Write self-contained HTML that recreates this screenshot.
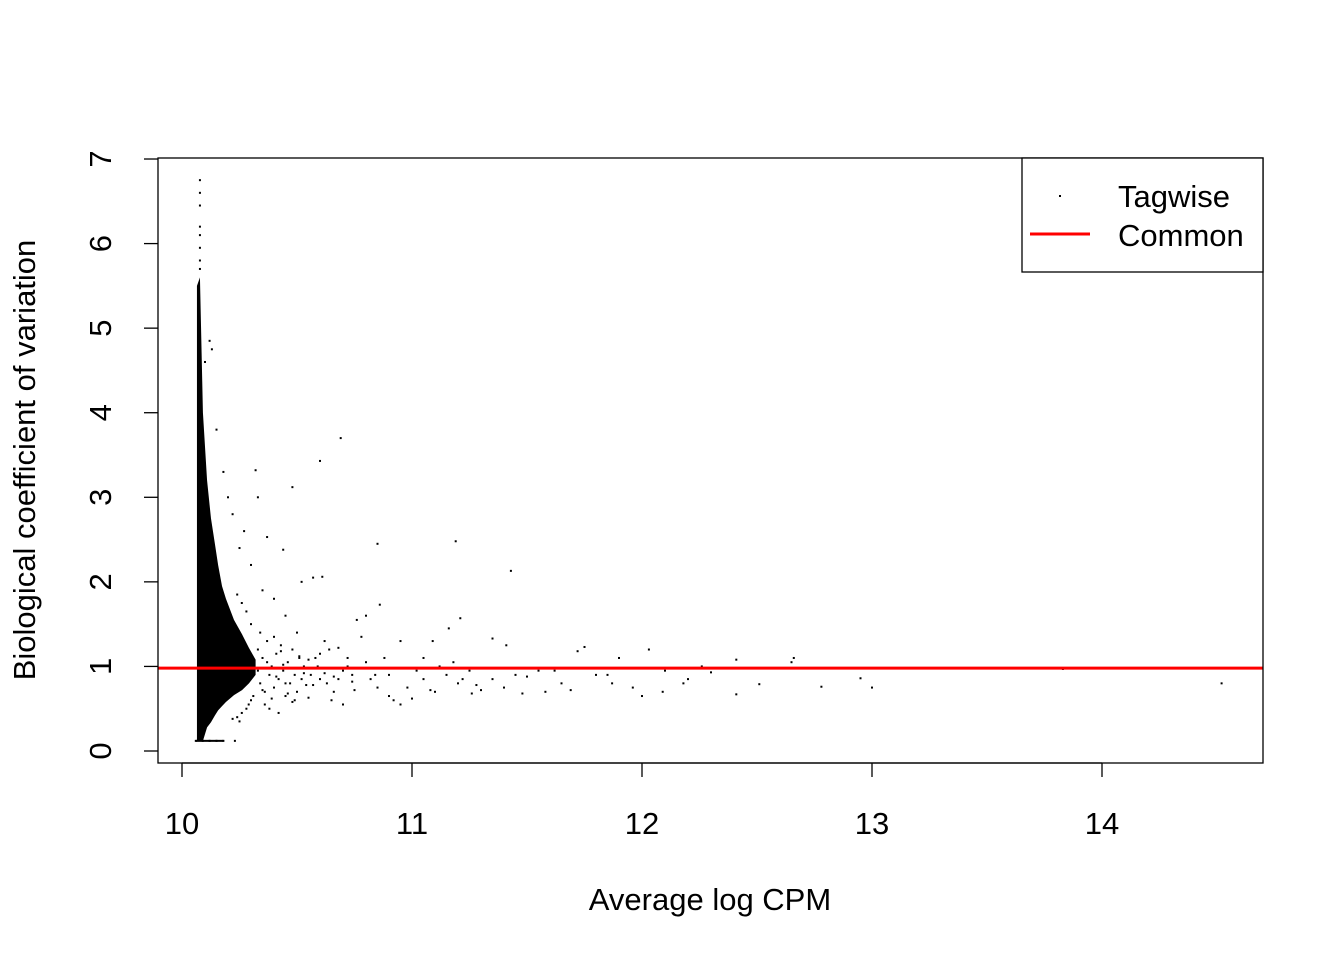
<!DOCTYPE html>
<html><head><meta charset="utf-8"><style>
html,body{margin:0;padding:0;background:#fff}
svg text{font-family:"Liberation Sans",Arial,sans-serif;fill:#000}
</style></head><body>
<svg id="c" width="1344" height="960" xmlns="http://www.w3.org/2000/svg"></svg>
<script>
const xTicks=[10,11,12,13,14];
const yTicks=[0,1,2,3,4,5,6,7];
const commonBCV=0.98;
// dense cloud envelope: logCPM, lower BCV, upper BCV
const bandX=[10.065,10.078,10.091,10.109,10.126,10.143,10.157,10.174,10.191,10.226,10.261,10.291,10.32];
const bandLo=[0.12,0.12,0.12,0.28,0.34,0.42,0.48,0.53,0.58,0.66,0.72,0.8,0.9];
const bandHi=[5.5,5.6,4.0,3.2,2.75,2.45,2.2,1.95,1.8,1.55,1.38,1.22,1.08];
// sparse tagwise points
const ptX=[10.078,10.078,10.078,10.078,10.078,10.078,10.078,10.078,10.69,10.60,10.32,10.48,10.33,10.85,11.19,11.43,10.37,10.44,10.57,10.61,10.52,10.86,11.21,10.76,10.8,11.16,11.09,11.35,11.41,11.75,11.72,12.03,11.9,12.26,12.41,12.66,12.65,12.51,12.41,12.78,12.95,13.0,13.83,14.52,12.2,12.18,12.09,12.0,11.96,11.87,11.85,11.69,11.58,11.48,11.4,11.3,11.2,11.1,11.0,10.95,10.9,10.85,10.75,10.7,10.65,10.55,10.6,10.7,10.8,10.9,11.05,11.15,11.25,11.35,11.5,11.55,11.65,11.8,12.1,12.3,10.62,10.68,10.78,10.95,11.05,11.18,10.5,10.45,10.4,10.35,10.3,10.25,10.27,10.22,10.2,10.18,10.15,10.13,10.12,10.1,10.56,10.63,10.72,10.82,10.88,10.98,11.02,11.12,11.22,11.28,10.58,10.66,10.74,10.84,10.92,11.08,11.26,11.45,11.62,10.06,10.09,10.12,10.15,10.18,10.23,
10.33,10.34,10.35,10.36,10.37,10.38,10.39,10.4,10.41,10.42,10.43,10.44,10.45,10.46,10.47,10.48,10.49,10.5,10.51,10.52,10.53,10.54,10.33,10.35,10.37,10.39,10.41,10.43,10.45,10.47,10.49,10.51,10.53,10.55,10.34,10.36,10.38,10.4,10.42,10.44,10.46,10.48,10.3,10.28,10.26,10.24,10.3,10.28,10.26,10.24,10.22,10.25,10.29,10.31,10.6,10.64,10.68,10.72,10.57,10.59,10.62,10.66,10.7,10.74];
const ptY=[6.75,6.6,6.45,6.2,6.1,5.95,5.8,5.7,3.7,3.43,3.32,3.12,3.0,2.45,2.48,2.13,2.53,2.38,2.05,2.06,2.0,1.73,1.57,1.55,1.6,1.45,1.3,1.33,1.25,1.23,1.18,1.2,1.1,1.0,1.08,1.1,1.05,0.79,0.67,0.76,0.86,0.75,0.97,0.8,0.85,0.8,0.7,0.65,0.75,0.8,0.9,0.72,0.7,0.68,0.75,0.72,0.8,0.7,0.62,0.55,0.65,0.75,0.72,0.55,0.6,0.63,0.85,0.95,1.05,0.9,0.85,0.9,0.95,0.85,0.88,0.95,0.8,0.9,0.95,0.93,1.3,1.22,1.35,1.3,1.1,1.05,1.4,1.6,1.8,1.9,2.2,2.4,2.6,2.8,3.0,3.3,3.8,4.75,4.85,4.6,0.9,0.8,1.0,0.85,1.1,0.75,0.95,1.0,0.85,0.78,1.1,0.7,0.82,0.9,0.6,0.72,0.68,0.9,0.95,0.12,0.12,0.12,0.12,0.12,0.12,
1.2,0.8,1.1,0.7,1.3,0.9,1.0,0.75,1.15,0.85,1.25,0.95,0.65,1.05,0.8,1.2,0.9,0.7,1.1,0.85,1.0,0.78,0.95,0.72,1.05,0.62,0.88,1.18,0.8,0.98,0.6,1.12,0.92,1.08,1.4,0.55,0.5,1.35,0.45,1.02,0.68,0.58,1.5,1.65,1.75,1.85,0.6,0.5,0.45,0.4,0.38,0.35,0.55,0.65,1.15,1.2,0.85,1.1,0.78,1.0,0.92,0.88,0.98,0.9];

const L=158,R=1263,T=158,B=763;
const sx=v=>182+(v-10)*230;
const sy=v=>751-v*84.57;
const NS="http://www.w3.org/2000/svg";
const svg=document.getElementById('c');
function mk(t,a){const e=document.createElementNS(NS,t);for(const k in a)e.setAttribute(k,a[k]);svg.appendChild(e);return e;}

let pts=[];
for(let i=0;i<bandX.length;i++)pts.push(sx(bandX[i])+','+sy(bandHi[i]));
for(let i=bandX.length-1;i>=0;i--)pts.push(sx(bandX[i])+','+sy(bandLo[i]));
const band=mk('polygon',{points:pts.join(' '),fill:'#000'});


const lb=mk('rect',{x:sx(10.06),y:sy(0.12)-1,width:sx(10.18)-sx(10.06),height:2,fill:'#000'});


for(let i=0;i<ptX.length;i++){
  const r=mk('rect',{x:sx(ptX[i])-1,y:sy(ptY[i])-1,width:2,height:2,fill:'#000'});
  
  
}
const cl=mk('line',{x1:L,x2:R,y1:sy(commonBCV),y2:sy(commonBCV),stroke:'#f00','stroke-width':3});


const fr=mk('rect',{x:L,y:T,width:R-L,height:B-T,fill:'none',stroke:'#000','stroke-width':1.3});


mk('line',{x1:sx(xTicks[0]),x2:sx(xTicks[xTicks.length-1]),y1:B,y2:B,stroke:'#000','stroke-width':1.3});
for(const v of xTicks){
  mk('line',{x1:sx(v),x2:sx(v),y1:B,y2:B+14,stroke:'#000','stroke-width':1.3});
  const t=mk('text',{x:sx(v),y:834,'font-size':31,'text-anchor':'middle'});t.textContent=v;
  
  
}
for(const v of yTicks){
  mk('line',{x1:L,x2:L-14,y1:sy(v),y2:sy(v),stroke:'#000','stroke-width':1.3});
  const t=mk('text',{x:111,y:sy(v),'font-size':31,'text-anchor':'middle',transform:`rotate(-90 111 ${sy(v)})`});t.textContent=v;
  
  
}
const xt=mk('text',{x:710,y:910,'font-size':31,'text-anchor':'middle'});xt.textContent='Average log CPM';


const yt=mk('text',{x:35,y:460,'font-size':31,'text-anchor':'middle',transform:'rotate(-90 35 460)'});yt.textContent='Biological coefficient of variation';


const lg=mk('rect',{x:1022,y:158,width:241,height:114,fill:'#fff',stroke:'#000','stroke-width':1.3});


mk('rect',{x:1059,y:195,width:2,height:2,fill:'#000'});
mk('line',{x1:1030,x2:1090,y1:234,y2:234,stroke:'#f00','stroke-width':3});
const l1=mk('text',{x:1118,y:207,'font-size':31});l1.textContent='Tagwise';


const l2=mk('text',{x:1118,y:246,'font-size':31});l2.textContent='Common';


</script>
</body></html>
